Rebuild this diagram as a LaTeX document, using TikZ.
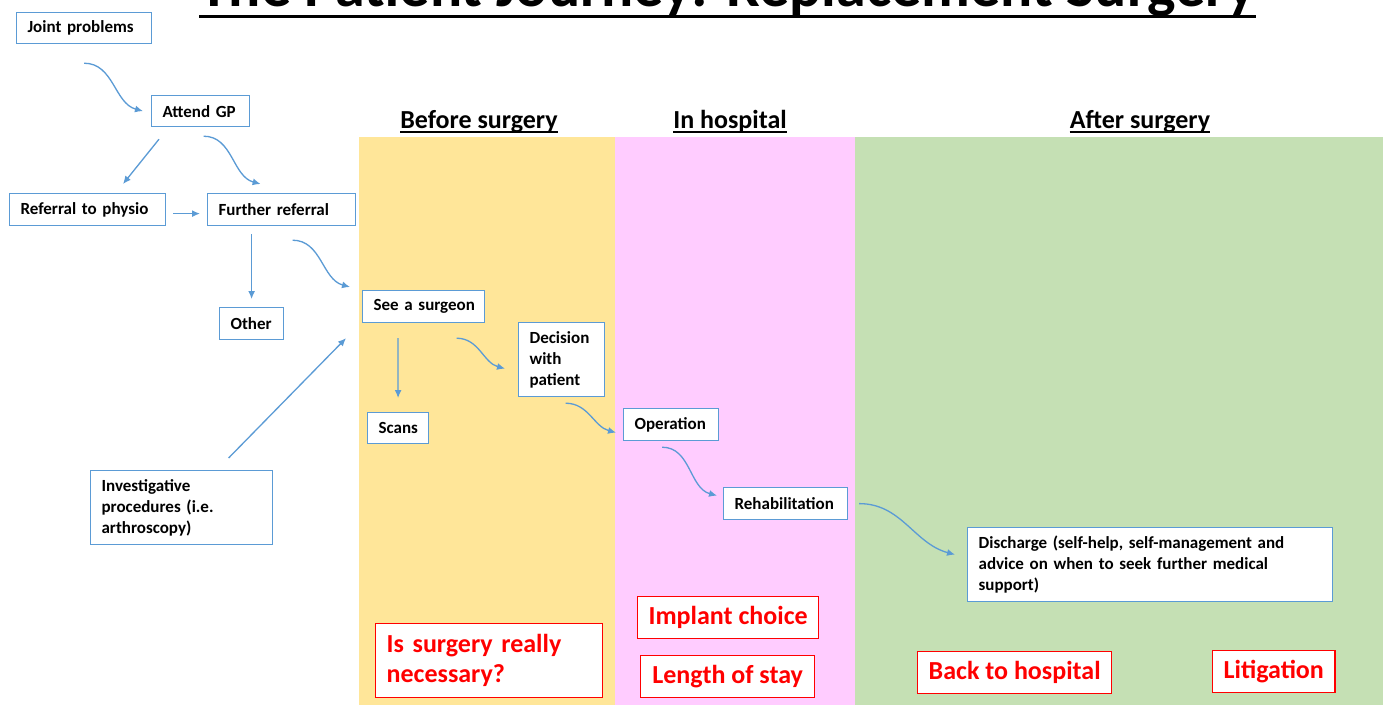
\documentclass[tikz,border=0pt]{standalone}
\usepackage{fontspec}
\setmainfont{Carlito}
\usepackage{tikz}
\usetikzlibrary{arrows.meta}
\definecolor{white}{RGB}{255,255,255}
\definecolor{black}{RGB}{0,0,0}
\definecolor{box_blue}{RGB}{91,155,213}
\definecolor{alert_red}{RGB}{255,0,0}
\definecolor{before_yellow}{RGB}{255,230,153}
\definecolor{hospital_pink}{RGB}{255,204,255}
\definecolor{after_green}{RGB}{197,224,180}

\tikzset{
  stepbox/.style={draw=box_blue,line width=1.2pt,fill=white,anchor=north west,
    align=left,inner xsep=11pt,inner ysep=0pt,
    font=\fontsize{17}{21}\selectfont\bfseries},
  alertbox/.style={draw=alert_red,line width=1.3pt,fill=white,anchor=north west,
    align=center,inner xsep=11pt,inner ysep=0pt,text=alert_red,
    font=\fontsize{26}{30}\selectfont\bfseries},
  phase/.style={anchor=base,inner sep=0pt,font=\fontsize{26}{30}\selectfont\bfseries},
  flow/.style={box_blue,line width=1.3pt,-{Latex[length=8pt,width=7pt]}}
}

\begin{document}
\begin{tikzpicture}[x=1pt,y=1pt]
	\path[use as bounding box,clip] (0,0) rectangle (1383,-705);
	\fill[white] (0,0) rectangle (1383,-705);

	% phases
	\fill[before_yellow] (359,-137) rectangle (615,-705);
	\fill[hospital_pink] (615,-137) rectangle (855,-705);
	\fill[after_green] (855,-137) rectangle (1383,-705);

	\node[anchor=base,inner sep=0pt,font=\fontsize{60}{62}\selectfont\bfseries] (title) at (727.5,-6) {The Patient Journey: Replacement Surgery};
	\draw[line width=3pt] ([yshift=-10pt]title.base west) -- ([yshift=-10pt]title.base east);

	\node[phase] (before) at (479,-128) {Before surgery};
	\node[phase] (inhosp) at (730,-128) {In hospital};
	\node[phase] (after) at (1140,-128) {After surgery};
	\foreach \h in {before,inhosp,after}
		\draw[line width=1.8pt] ([yshift=-4pt]\h.base west) -- ([yshift=-4pt]\h.base east);

	% steps
	\node[stepbox,text width=113pt,minimum height=31pt] (joint) at (16,-12) {Joint problems};
	\node[stepbox,text width=76pt,minimum height=31pt] (attend) at (151,-95) {Attend GP};
	\node[stepbox,text width=134pt,minimum height=32pt] (physio) at (9,-193) {Referral to physio};
	\node[stepbox,text width=126pt,minimum height=32pt] (further) at (207,-193) {Further referral};
	\node[stepbox,text width=42pt,minimum height=32pt] (other) at (219,-307) {Other};
	\node[stepbox,text width=160pt,minimum height=74pt] (invest) at (90,-470) {Investigative\\procedures (i.e.\\arthroscopy)};
	\node[stepbox,text width=100pt,minimum height=32pt] (surgeon) at (362,-290) {\mbox{See a surgeon}};
	\node[stepbox,text width=64pt,minimum height=74pt] (decision) at (518,-322) {Decision\\with\\patient};
	\node[stepbox,text width=39pt,minimum height=31pt] (scans) at (367,-412) {Scans};
	\node[stepbox,text width=73pt,minimum height=32pt] (operation) at (623,-408) {Operation};
	\node[stepbox,text width=102pt,minimum height=32pt] (rehab) at (723,-487) {\mbox{Rehabilitation}};
	\node[stepbox,text width=343pt,minimum height=74pt] (discharge) at (967,-527) {Discharge (self-help, self-management and\\advice on when to seek further medical\\support)};

	% concerns
	\node[alertbox,align=left,text width=205pt,minimum height=74pt] (necessary) at (375,-623) {Is surgery really\\necessary?};
	\node[alertbox,minimum width=181pt,minimum height=42pt] (implant) at (637,-596) {Implant choice};
	\node[alertbox,minimum width=174pt,minimum height=42pt] (stay) at (640,-655) {Length of stay};
	\node[alertbox,minimum width=194pt,minimum height=42pt] (back) at (917,-651) {Back to hospital};
	\node[alertbox,minimum width=122pt,minimum height=42pt] (litigation) at (1212,-650) {Litigation};

	% connectors
	\draw[flow] ([yshift=-19pt]joint.south) to[out=0,in=165] ([xshift=-8pt]attend.west);
	\draw[flow] ([xshift=8pt,yshift=-12pt]attend.south west) -- ([xshift=114pt,yshift=9pt]physio.north west);
	\draw[flow] ([xshift=3pt,yshift=-9pt]attend.south) to[out=0,in=165] ([xshift=-21pt,yshift=9pt]further.north);
	\draw[flow,shorten <=7pt,shorten >=7pt] ([yshift=-4pt]physio.east) -- ([yshift=-4pt]further.west);
	\draw[flow] ([xshift=-30pt,yshift=-8pt]further.south) -- ([yshift=8pt]other.north);
	\draw[flow] ([xshift=11pt,yshift=-14pt]further.south) to[out=0,in=165] ([xshift=-12pt,yshift=3pt]surgeon.north west);
	\draw[flow] ([xshift=47pt,yshift=12pt]invest.north) -- ([xshift=-16pt,yshift=-15pt]surgeon.south west);
	\draw[flow] ([xshift=36pt,yshift=-15pt]surgeon.south west) -- ([yshift=14pt]scans.north);
	\draw[flow] ([xshift=33pt,yshift=-15pt]surgeon.south) to[out=0,in=165] ([xshift=-13pt,yshift=-9pt]decision.west);
	\draw[flow] ([xshift=4pt,yshift=-6pt]decision.south) to[out=0,in=165] ([xshift=-7pt,yshift=-8pt]operation.west);
	\draw[flow] ([xshift=-9pt,yshift=-6pt]operation.south) to[out=0,in=165] ([xshift=-6pt,yshift=8pt]rehab.west);
	\draw[flow] ([xshift=11pt]rehab.east) to[out=0,in=165] ([xshift=-12pt,yshift=10pt]discharge.west);
\end{tikzpicture}
\end{document}
